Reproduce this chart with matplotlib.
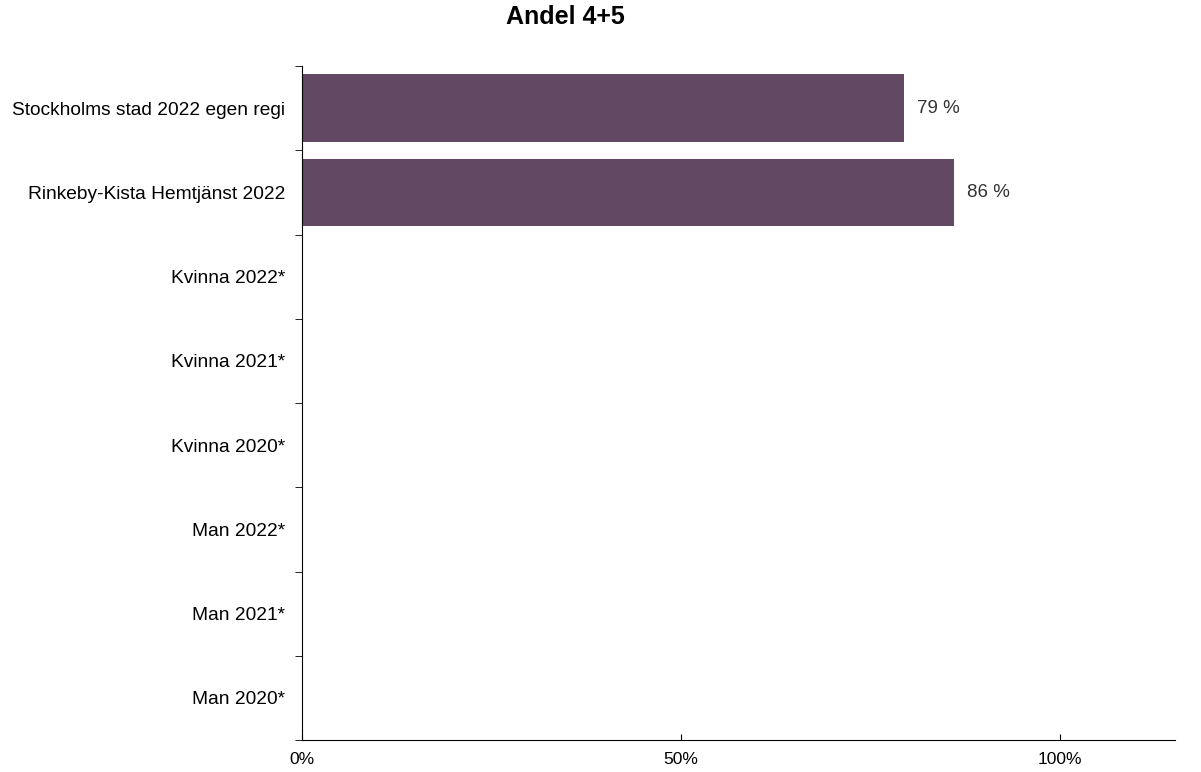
import numpy as np
import matplotlib.pyplot as plt

plt.rcParams['font.family'] = ['Liberation Sans', 'DejaVu Sans']

categories = ['Stockholms stad 2022 egen regi', 'Rinkeby-Kista Hemtjänst 2022',
              'Kvinna 2022*', 'Kvinna 2021*', 'Kvinna 2020*',
              'Man 2022*', 'Man 2021*', 'Man 2020*']
values = [79.5, 86, np.nan, np.nan, np.nan, np.nan, np.nan, np.nan]
labels = ['79 %', '86 %', '', '', '', '', '', '']
xticks = [0, 50, 100]
xticklabels = ['0%', '50%', '100%']

fig = plt.figure(figsize=(12.01, 7.72), dpi=100)
ax = fig.add_axes([302/1201, 1-740/772, (1175-302)/1201, (740-66)/772])

y = np.arange(len(categories))
ax.barh(y, values, height=0.8, color='#624862')
for yi, v, lab in zip(y, values, labels):
    if lab:
        ax.text(v + 1.7, yi, lab, va='center', ha='left', fontsize=13.5, color='#333333')

ax.set_xlim(0, 115.2)
ax.set_ylim(len(categories) - 0.5, -0.5)
ax.set_yticks(y)
ax.set_yticklabels(categories, fontsize=13.8)
ax.set_yticks(np.arange(len(categories) + 1) - 0.5, minor=True)
ax.tick_params(axis='y', which='major', length=0, pad=12)
ax.tick_params(axis='y', which='minor', length=5, direction='out')
ax.set_xticks(xticks)
ax.set_xticklabels(xticklabels, fontsize=12.5)
ax.tick_params(axis='x', length=4, direction='in', pad=9)

for s in ['top', 'right']:
    ax.spines[s].set_visible(False)

fig.text(565/1201, 1-17/772, 'Andel 4+5', ha='center', va='center', fontsize=18, fontweight='bold')

fig.savefig('out.png', dpi=100)
